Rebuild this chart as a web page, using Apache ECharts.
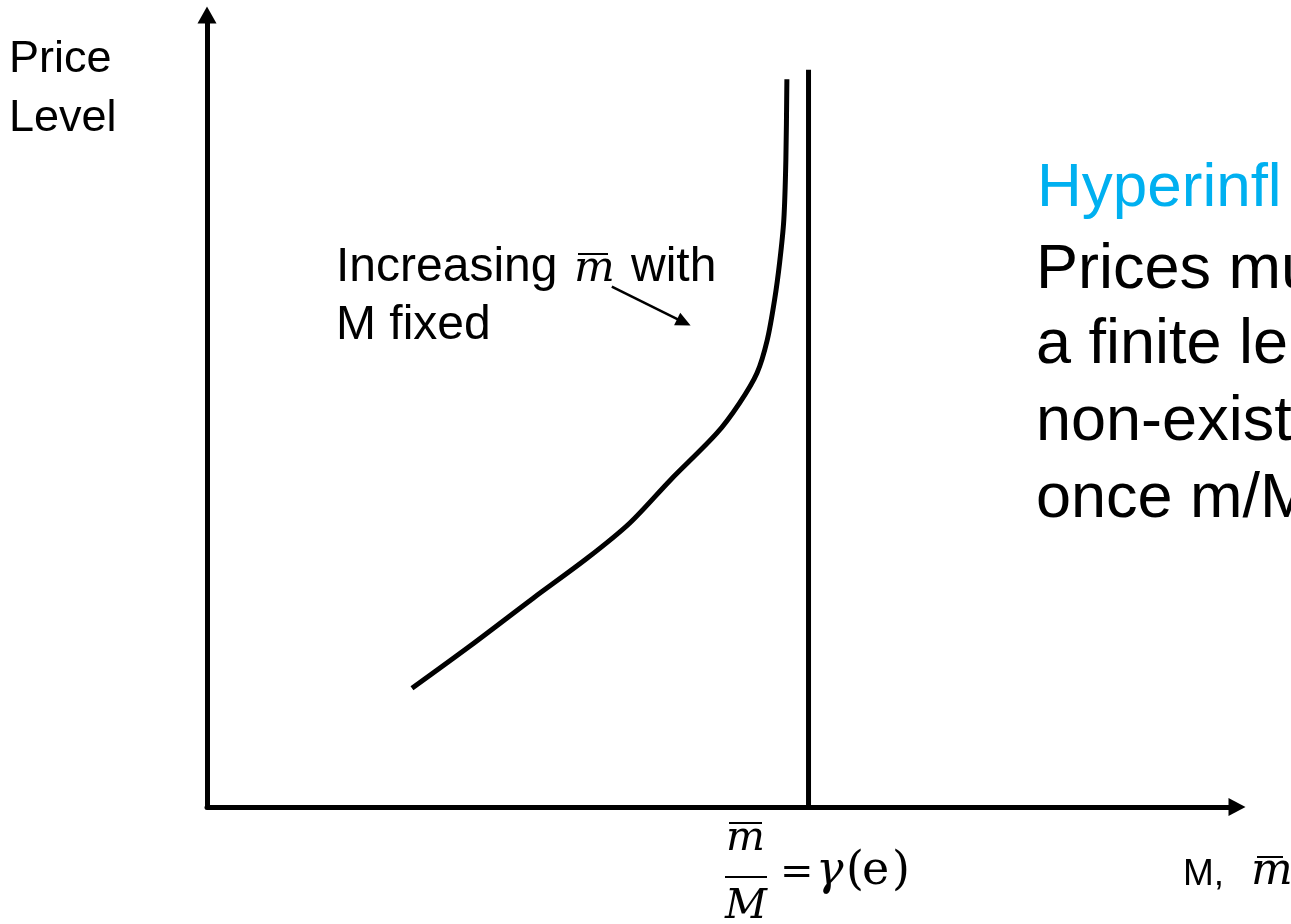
<!DOCTYPE html>
<html>
<head>
<meta charset="utf-8">
<title>Hyperinflation</title>
<script src="https://cdn.jsdelivr.net/npm/echarts@6/dist/echarts.min.js"></script>
<style>
  html, body { margin: 0; padding: 0; background: #fff; }
  #main { width: 1291px; height: 924px; }
</style>
</head>
<body>
<div id="main"></div>
<script>
// price level curve (x: money, y: price level, 0-100 scale)
const curveM     = [19.9, 25.5, 31.7, 36.9, 41.0, 45.0, 49.5, 51.7, 53.4, 54.4, 55.1, 55.6, 56.0, 56.2, 56.3];
const curvePrice = [15.0, 20.3, 26.4, 31.4, 35.8, 41.3, 47.2, 51.0, 54.8, 59.0, 64.0, 68.8, 74.1, 81.7, 91.9];

// the m/M = gamma(e) ceiling
const ceilingX = 58.4;
const ceilingTop = 93.1;

// little arrow next to "Increasing m with M fixed"
const noteFrom = [39.3, 65.7];
const noteTo = [46.3, 61.2];

const SANS = '"Liberation Sans", Arial, sans-serif';
const SERIF = '"DejaVu Serif", "Liberation Serif", serif';

const chart = echarts.init(document.getElementById('main'));

const curveData = curveM.map((m, i) => [m, curvePrice[i]]);

function txt(text, x, y, size, opts) {
  return {
    type: 'text',
    x: x,
    y: y,
    style: Object.assign({
      text: text,
      fontFamily: SANS,
      fontSize: size,
      fill: '#000',
      verticalAlign: 'middle'
    }, opts || {})
  };
}

// italic m with a bar drawn above it
function mbar(x, y, size, barX1, barX2, barY) {
  return [
    txt('m', x, y, size, { fontFamily: SERIF, fontStyle: 'italic' }),
    {
      type: 'line',
      shape: { x1: barX1, y1: barY, x2: barX2, y2: barY },
      style: { stroke: '#000', lineWidth: 2 }
    }
  ];
}

const option = {
  animation: false,
  backgroundColor: '#fff',
  grid: { left: 207, right: 54, top: 15, bottom: 117 },
  xAxis: {
    type: 'value',
    min: 0,
    max: 100,
    axisLine: {
      show: true,
      symbol: ['none', 'triangle'],
      symbolSize: [18, 17],
      lineStyle: { color: '#000', width: 5 }
    },
    axisTick: { show: false },
    axisLabel: { show: false },
    splitLine: { show: false }
  },
  yAxis: {
    type: 'value',
    min: 0,
    max: 100,
    axisLine: {
      show: true,
      symbol: ['none', 'triangle'],
      symbolSize: [19, 17],
      lineStyle: { color: '#000', width: 5 }
    },
    axisTick: { show: false },
    axisLabel: { show: false },
    splitLine: { show: false }
  },
  series: [
    {
      name: 'price level',
      type: 'line',
      data: curveData,
      smooth: 0.3,
      showSymbol: false,
      lineStyle: { color: '#000', width: 5 },
      markLine: {
        silent: true,
        symbolSize: [14, 15],
        lineStyle: { color: '#000', width: 2.5, type: 'solid' },
        label: { show: false },
        data: [[
          { coord: noteFrom, symbol: 'none' },
          { coord: noteTo, symbol: 'triangle' }
        ]]
      }
    },
    {
      name: 'ceiling',
      type: 'line',
      data: [[ceilingX, 0], [ceilingX, ceilingTop]],
      showSymbol: false,
      lineStyle: { color: '#000', width: 5 }
    }
  ],
  graphic: [
    txt('Price', 9, 60, 45),
    txt('Level', 9, 119, 45),

    txt('Increasing', 336, 268, 48),
    ...mbar(574, 270, 43, 578, 608, 254),
    txt('with', 631, 268, 48),
    txt('M fixed', 336, 326, 48),

    txt('Hyperinfl', 1037, 189, 62, { fill: '#00B0F0' }),
    txt('Prices mu', 1036, 271, 63),
    txt('a finite le', 1036, 346, 63),
    txt('non-exist', 1036, 423, 63),
    txt('once m/M', 1036, 500, 63),

    // m/M = gamma(e) under the ceiling
    ...mbar(726, 839, 41, 729, 762, 823),
    {
      type: 'line',
      shape: { x1: 725, y1: 877, x2: 767, y2: 877 },
      style: { stroke: '#000', lineWidth: 2 }
    },
    txt('M', 746, 907, 41, { fontFamily: SERIF, fontStyle: 'italic', align: 'center' }),
    txt('=', 780, 874, 40, { fontFamily: SERIF }),
    txt('\u03b3', 816, 872, 46, { fontFamily: SERIF, fontStyle: 'italic' }),
    txt('(', 846, 872, 46, { fontFamily: SERIF }),
    txt('e', 862, 872, 46, { fontFamily: SERIF }),
    txt(')', 892, 872, 46, { fontFamily: SERIF }),

    txt('M,', 1183, 875, 37),
    ...mbar(1251, 873, 44, 1257, 1283, 857)
  ]
};

chart.setOption(option);
window.addEventListener('resize', () => chart.resize());
</script>
</body>
</html>
